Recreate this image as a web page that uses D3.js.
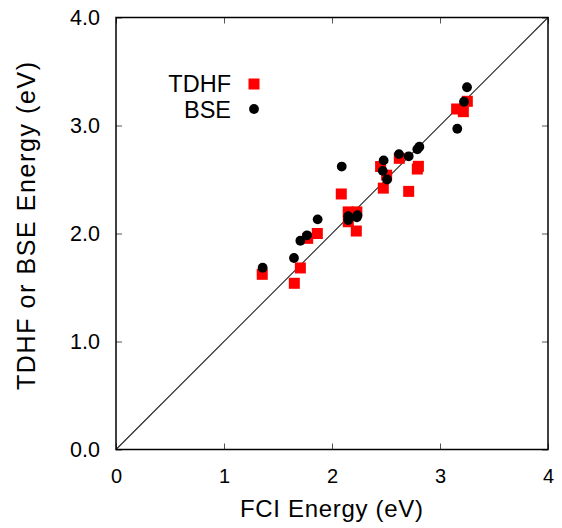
<!DOCTYPE html>
<html>
<head>
<meta charset="utf-8">
<script src="https://cdn.jsdelivr.net/npm/d3@7/dist/d3.min.js"></script>
<style>
  html, body { margin: 0; padding: 0; background: #fff; }
  svg { display: block; }
  text { font-family: "Liberation Sans", Arial, Helvetica, sans-serif; fill: #000; }
</style>
</head>
<body>
<svg id="chart" width="562" height="528"></svg>
<script>
// ---- data ----
const xTicks = [0, 1, 2, 3, 4];
const yTicks = [0, 1, 2, 3, 4];
const xTickLabels = ["0", "1", "2", "3", "4"];
const yTickLabels = ["0.0", "1.0", "2.0", "3.0", "4.0"];
const seriesNames = ["TDHF", "BSE"];
const xLabel = "FCI Energy (eV)";
const yLabel = "TDHF or BSE Energy (eV)";

const tdhfFCI = [1.354, 1.651, 1.707, 1.775, 1.864, 2.086, 2.150, 2.230, 2.151, 2.225,
                 2.450, 2.506, 2.475, 2.623, 2.710, 2.800, 2.790, 3.154, 3.216, 3.253];
const tdhfE   = [1.622, 1.539, 1.681, 1.955, 2.000, 2.366, 2.200, 2.200, 2.109, 2.023,
                 2.620, 2.540, 2.420, 2.696, 2.390, 2.622, 2.597, 3.153, 3.128, 3.224];

const bseFCI  = [1.358, 1.648, 1.707, 1.769, 1.867, 2.090, 2.150, 2.150, 2.235, 2.230,
                 2.478, 2.470, 2.510, 2.620, 2.710, 2.809, 2.790, 3.160, 3.222, 3.250];
const bseE    = [1.683, 1.773, 1.933, 1.983, 2.131, 2.620, 2.160, 2.125, 2.170, 2.150,
                 2.677, 2.580, 2.500, 2.735, 2.715, 2.804, 2.780, 2.970, 3.220, 3.354];

const diagonal = [[0, 0], [4, 4]];

// ---- chart ----
const svg = d3.select("#chart");
const x = d3.scaleLinear().domain([0, 4]).range([116, 548]);
const y = d3.scaleLinear().domain([0, 4]).range([449.5, 17.5]);

// diagonal line
svg.append("path")
  .attr("d", d3.line().x(d => x(d[0])).y(d => y(d[1]))(diagonal))
  .attr("fill", "none").attr("stroke", "#222").attr("stroke-width", 1.1);

// axes with inward ticks
const gx = svg.append("g").attr("transform", `translate(0,${y(0)})`)
  .call(d3.axisBottom(x).tickValues(xTicks).tickFormat((d, i) => xTickLabels[i])
        .tickSize(-6).tickPadding(19));
const gxTop = svg.append("g").attr("transform", `translate(0,${y(4)})`)
  .call(d3.axisTop(x).tickValues(xTicks).tickFormat("").tickSize(-6));
const gy = svg.append("g").attr("transform", `translate(${x(0)},0)`)
  .call(d3.axisLeft(y).tickValues(yTicks).tickFormat((d, i) => yTickLabels[i])
        .tickSize(-6).tickPadding(16));
const gyRight = svg.append("g").attr("transform", `translate(${x(4)},0)`)
  .call(d3.axisRight(y).tickValues(yTicks).tickFormat("").tickSize(-6));

[gx, gxTop, gy, gyRight].forEach(g => {
  g.select(".domain").remove();
  g.selectAll(".tick line").attr("stroke", "#555").attr("stroke-width", 1);
  g.selectAll(".tick text").attr("font-size", 20).attr("fill", "#000")
    .style("font-family", "'Liberation Sans', Arial, sans-serif");
});
gy.selectAll(".tick text").attr("font-size", 21.5);

// frame
svg.append("rect")
  .attr("x", x(0)).attr("y", y(4))
  .attr("width", x(4) - x(0)).attr("height", y(0) - y(4))
  .attr("fill", "none").attr("stroke", "#000").attr("stroke-width", 1.5);

// TDHF squares
const sq = 11;
svg.append("g").selectAll("rect").data(tdhfFCI.map((v, i) => [v, tdhfE[i]])).join("rect")
  .attr("x", d => x(d[0]) - sq / 2).attr("y", d => y(d[1]) - sq / 2)
  .attr("width", sq).attr("height", sq).attr("fill", "#ff0000");

// BSE circles
svg.append("g").selectAll("circle").data(bseFCI.map((v, i) => [v, bseE[i]])).join("circle")
  .attr("cx", d => x(d[0])).attr("cy", d => y(d[1])).attr("r", 4.9).attr("fill", "#000");

// legend
svg.append("text").attr("x", 231).attr("y", 92.3).attr("text-anchor", "end")
  .attr("font-size", 23.5).text(seriesNames[0]);
svg.append("rect").attr("x", 254 - sq / 2).attr("y", 84 - sq / 2)
  .attr("width", sq).attr("height", sq).attr("fill", "#ff0000");
svg.append("text").attr("x", 231).attr("y", 118.3).attr("text-anchor", "end")
  .attr("font-size", 23.5).text(seriesNames[1]);
svg.append("circle").attr("cx", 254).attr("cy", 109).attr("r", 4.9).attr("fill", "#000");

// axis titles
svg.append("text").attr("x", 331.5).attr("y", 516.5).attr("text-anchor", "middle")
  .attr("font-size", 24).attr("textLength", 183).attr("lengthAdjust", "spacing").text(xLabel);
svg.append("text").attr("transform", "translate(35,226) rotate(-90)")
  .attr("text-anchor", "middle").attr("font-size", 25)
  .attr("textLength", 328).attr("lengthAdjust", "spacing").text(yLabel);
</script>
</body>
</html>
